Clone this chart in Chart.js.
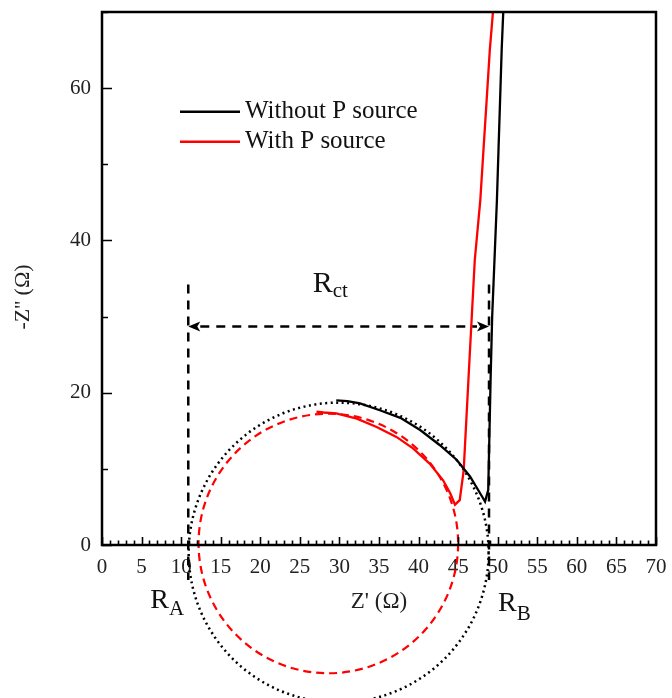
<!DOCTYPE html>
<html>
<head>
<meta charset="utf-8">
<script src="https://cdn.jsdelivr.net/npm/chart.js@4/dist/chart.umd.min.js"></script>
<style>
  html, body { margin: 0; padding: 0; background: #fff; }
  #wrap { width: 672px; height: 698px; }
</style>
</head>
<body>
<div id="wrap"><canvas id="nyquist" width="672" height="698"></canvas></div>
<script>
// Nyquist plot: impedance spectra with and without P source
const seriesNames = ['Without P source', 'With P source'];
const seriesColors = ['#000000', '#ff0000'];

const zReWithout = [29.6, 31.0, 32.6, 35.1, 37.7, 40.2, 42.7, 44.8, 46.5, 48.0, 48.4, 48.8, 49.1, 49.3, 49.9, 50.1, 50.3, 50.5, 50.7];
const zImWithout = [19.0, 18.9, 18.6, 17.7, 16.7, 15.1, 13.1, 11.2, 9.0, 6.4, 5.7, 7.2, 21.7, 30.0, 45.3, 51.9, 58.4, 65.0, 70.0];

const zReWith = [27.1, 28.0, 29.6, 32.2, 34.7, 37.2, 39.3, 41.4, 43.1, 44.0, 44.6, 45.2, 45.7, 46.3, 47.1, 47.8, 48.2, 48.6, 49.0, 49.4];
const zImWith = [17.5, 17.4, 17.3, 16.6, 15.5, 14.2, 12.7, 10.7, 8.5, 6.8, 5.3, 5.9, 9.8, 21.7, 37.4, 45.3, 51.9, 58.4, 65.0, 70.0];

// axis ranges and tick spacing
const zReRange = [0, 70];
const zImRange = [0, 70];
const zReSteps = [5, 1];   // labelled, minor
const zImSteps = [20, 10]; // labelled, minor

// fitted semicircles (centre Z', centre -Z'', radius in Z')
const circleCentreRe = [29.9, 28.6];
const circleCentreIm = [-1.0, 0.2];
const circleRadius = [18.95, 16.4];
const circleDash = [[2, 3.5], [8, 5]];

// real-axis intercepts R_A and R_B, and the R_ct arrow
const interceptRe = [10.9, 48.9];
const interceptNames = [['R', 'A'], ['R', 'B']];
const markerIm = [34.2, -4.6];
const rctArrowIm = 28.7;
const rctName = ['R', 'ct'];

const serif = "'Liberation Serif', 'Times New Roman', serif";
Chart.defaults.font.family = serif;

function pairs(xs, ys) { return xs.map((v, i) => ({ x: v, y: ys[i] })); }

function drawSubscripted(ctx, parts, left, base, big, small, drop) {
  ctx.textAlign = 'left';
  ctx.textBaseline = 'alphabetic';
  ctx.font = big + 'px ' + serif;
  ctx.fillText(parts[0], left, base);
  const w = ctx.measureText(parts[0]).width;
  ctx.font = small + 'px ' + serif;
  ctx.fillText(parts[1], left + w, base + drop);
}

const decor = {
  id: 'decor',
  beforeDatasetsDraw(chart) {
    const { ctx, scales: { x, y } } = chart;
    ctx.save();
    circleCentreRe.forEach((cx, i) => {
      const px = x.getPixelForValue(cx);
      const py = y.getPixelForValue(circleCentreIm[i]);
      const r = x.getPixelForValue(cx + circleRadius[i]) - px;
      ctx.beginPath();
      ctx.setLineDash(circleDash[i]);
      ctx.lineWidth = i === 0 ? 2.5 : 2.2;
      ctx.strokeStyle = seriesColors[i];
      ctx.arc(px, py, r, 0, Math.PI * 2);
      ctx.stroke();
    });
    ctx.restore();
  },
  afterDatasetsDraw(chart) {
    const { ctx, chartArea: a, scales: { x, y } } = chart;
    ctx.save();
    ctx.strokeStyle = '#000';
    ctx.fillStyle = '#000';

    // vertical intercept markers
    ctx.lineWidth = 2.5;
    ctx.setLineDash([9, 7]);
    interceptRe.forEach(v => {
      const px = x.getPixelForValue(v);
      ctx.beginPath();
      ctx.moveTo(px, y.getPixelForValue(markerIm[0]));
      ctx.lineTo(px, y.getPixelForValue(markerIm[1]));
      ctx.stroke();
    });

    // R_ct double arrow
    const ax0 = x.getPixelForValue(interceptRe[0]);
    const ax1 = x.getPixelForValue(interceptRe[1]);
    const ay = y.getPixelForValue(rctArrowIm);
    const head = 12;
    ctx.beginPath();
    ctx.moveTo(ax0 + head, ay);
    ctx.lineTo(ax1 - head, ay);
    ctx.stroke();
    ctx.setLineDash([]);
    [[ax0, 1], [ax1, -1]].forEach(([tip, dir]) => {
      ctx.beginPath();
      ctx.moveTo(tip, ay);
      ctx.lineTo(tip + dir * head, ay - 5);
      ctx.lineTo(tip + dir * (head - 3), ay);
      ctx.lineTo(tip + dir * head, ay + 5);
      ctx.closePath();
      ctx.fill();
    });

    // labels
    ctx.fillStyle = '#111';
    drawSubscripted(ctx, rctName, (ax0 + ax1) / 2 - 26, ay - 34, 30, 21, 5);
    drawSubscripted(ctx, interceptNames[0], ax0 - 38, a.bottom + 63, 28, 21, 7);
    drawSubscripted(ctx, interceptNames[1], ax1 + 9, a.bottom + 66, 28, 21, 9);

    // legend
    chart.data.datasets.forEach((ds, i) => {
      const ly = a.top + 99.7 + i * 30;
      ctx.beginPath();
      ctx.strokeStyle = ds.borderColor;
      ctx.lineWidth = 2.5;
      ctx.moveTo(a.left + 78, ly);
      ctx.lineTo(a.left + 138, ly);
      ctx.stroke();
      ctx.fillStyle = '#111';
      ctx.font = '25px ' + serif;
      ctx.textAlign = 'left';
      ctx.textBaseline = 'middle';
      ctx.fillText(ds.label, a.left + 143, ly);
    });

    // y-axis title
    ctx.save();
    ctx.translate(23, 297);
    ctx.rotate(-Math.PI / 2);
    ctx.font = '22px ' + serif;
    ctx.fillStyle = '#222';
    ctx.textAlign = 'center';
    ctx.textBaseline = 'middle';
    ctx.fillText("-Z'' (\u03A9)", 0, 0);
    ctx.restore();
    ctx.restore();
  },
  afterDraw(chart) {
    const { ctx, chartArea: a, scales: { x, y } } = chart;
    ctx.save();
    ctx.strokeStyle = '#000';
    ctx.lineWidth = 1.6;
    ctx.beginPath();
    for (let v = zReRange[0]; v <= zReRange[1]; v += zReSteps[1]) {
      const px = Math.round(x.getPixelForValue(v)) + 0.5;
      const len = v % zReSteps[0] === 0 ? 8 : 4.5;
      ctx.moveTo(px, a.bottom);
      ctx.lineTo(px, a.bottom - len);
    }
    for (let v = zImRange[0]; v <= zImRange[1]; v += zImSteps[1]) {
      const py = Math.round(y.getPixelForValue(v)) + 0.5;
      const len = v % zImSteps[0] === 0 ? 10 : 6;
      ctx.moveTo(a.left, py);
      ctx.lineTo(a.left + len, py);
    }
    ctx.stroke();
    ctx.lineWidth = 2.5;
    ctx.strokeRect(a.left, a.top, a.right - a.left, a.bottom - a.top);
    ctx.restore();
  }
};

new Chart(document.getElementById('nyquist'), {
  type: 'line',
  data: {
    datasets: [
      { label: seriesNames[0], data: pairs(zReWithout, zImWithout), borderColor: seriesColors[0] },
      { label: seriesNames[1], data: pairs(zReWith, zImWith), borderColor: seriesColors[1] }
    ].map(d => Object.assign(d, { borderWidth: 2.3, pointRadius: 0, tension: 0, fill: false }))
  },
  options: {
    responsive: false,
    devicePixelRatio: 1,
    animation: false,
    layout: { padding: { top: 12, right: 16, left: 0, bottom: 0 } },
    plugins: { legend: { display: false }, tooltip: { enabled: false } },
    scales: {
      x: {
        type: 'linear',
        min: zReRange[0], max: zReRange[1],
        grid: { display: false, drawTicks: false },
        border: { display: false },
        ticks: { stepSize: zReSteps[0], padding: 10, color: '#222', maxRotation: 0, autoSkip: false, font: { size: 21 } },
        title: { display: true, text: "Z' (\u03A9)", color: '#222', font: { size: 23 }, padding: { top: 0, bottom: 82 } },
        afterFit(scale) { scale.height = 153; scale.paddingLeft = 0; scale.paddingRight = 0; }
      },
      y: {
        type: 'linear',
        min: zImRange[0], max: zImRange[1],
        grid: { display: false, drawTicks: false },
        border: { display: false },
        ticks: { stepSize: zImSteps[0], includeBounds: false, padding: 11, color: '#222', font: { size: 21 } },
        afterFit(scale) { scale.width = 102; scale.paddingTop = 0; scale.paddingBottom = 0; }
      }
    }
  },
  plugins: [decor]
});
</script>
</body>
</html>
